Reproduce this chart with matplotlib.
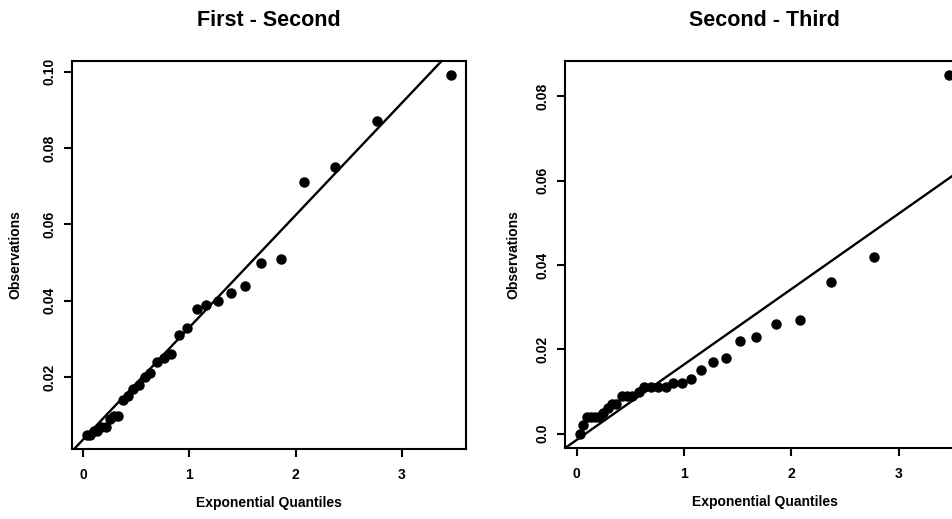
import matplotlib
matplotlib.use("Agg")
import matplotlib.pyplot as plt
import numpy as np

plt.rcParams['font.family'] = ['Liberation Sans', 'DejaVu Sans']
plt.rcParams['font.weight'] = 'bold'

# exponential quantiles (same 31 positions in both panels)
cuantiles = [0.03, 0.06, 0.10, 0.13, 0.17, 0.21, 0.25, 0.29, 0.33, 0.37,
             0.42, 0.47, 0.52, 0.58, 0.63, 0.69, 0.76, 0.83, 0.90, 0.98,
             1.07, 1.16, 1.27, 1.39, 1.52, 1.67, 1.86, 2.08, 2.37, 2.77, 3.47]

# observaciones ordenadas
obs_primero = [0.005, 0.005, 0.006, 0.006, 0.007, 0.007, 0.009, 0.010, 0.010, 0.014,
               0.015, 0.017, 0.018, 0.020, 0.021, 0.024, 0.025, 0.026, 0.031, 0.033,
               0.038, 0.039, 0.040, 0.042, 0.044, 0.050, 0.051, 0.071, 0.075, 0.087, 0.099]
obs_segundo = [0.000, 0.002, 0.004, 0.004, 0.004, 0.004, 0.005, 0.006, 0.007, 0.007,
               0.009, 0.009, 0.009, 0.010, 0.011, 0.011, 0.011, 0.011, 0.012, 0.012,
               0.013, 0.015, 0.017, 0.018, 0.022, 0.023, 0.026, 0.027, 0.036, 0.042, 0.085]

# rectas de referencia (ordenada, pendiente)
recta_primero = (0.0038, 0.0293)
recta_segundo = (-0.0015, 0.0179)

titulos = ['First - Second', 'Second - Third']
xticks = [0, 1, 2, 3]
yticks_primero = [0.02, 0.04, 0.06, 0.08, 0.10]
ylabels_primero = ['0.02', '0.04', '0.06', '0.08', '0.10']
yticks_segundo = [0.0, 0.02, 0.04, 0.06, 0.08]
ylabels_segundo = ['0.0', '0.02', '0.04', '0.06', '0.08']

W, H = 953, 519
fig = plt.figure(figsize=(W / 100, H / 100), dpi=100)

# posiciones en pixeles: izquierda, arriba, ancho, alto
cajas = [(72, 61, 394, 388), (565, 61, 399, 387)]
datos = [(obs_primero, recta_primero, yticks_primero, ylabels_primero, -57),
         (obs_segundo, recta_segundo, yticks_segundo, ylabels_segundo, -52)]

for (px, py, pw, ph), (obs, recta, yt, yl, xlab), titulo in zip(cajas, datos, titulos):
    ax = fig.add_axes([px / W, 1 - (py + ph) / H, pw / W, ph / H])
    x = np.array(cuantiles)
    y = np.array(obs)
    ax.plot(x, y, 'o', color='black', ms=6.5, mec='black')
    ax.axline((0, recta[0]), slope=recta[1], color='black', lw=1.7)

    # rango con 4% de margen como en R
    dx = (x.max() - x.min()) * 0.04
    dy = (y.max() - y.min()) * 0.04
    ax.set_xlim(x.min() - dx, x.max() + dx)
    ax.set_ylim(y.min() - dy, y.max() + dy)

    ax.set_xticks(xticks)
    ax.set_xticklabels([str(t) for t in xticks], fontsize=10, fontweight='bold')
    ax.set_yticks(yt)
    ax.set_yticklabels(yl, fontsize=10, fontweight='bold', rotation=90, va='center')
    ax.tick_params(axis='x', length=6, width=1.5, pad=8)
    ax.tick_params(axis='y', length=6, width=1.5, pad=5)
    for s in ax.spines.values():
        s.set_linewidth(1.5)

    ax.text(0.5, 1 + 40 / ph, titulo, transform=ax.transAxes, ha='center', va='center',
            fontsize=15.5, fontweight='bold')
    ax.text(0.5, -54 / ph, 'Exponential Quantiles', transform=ax.transAxes,
            ha='center', va='center', fontsize=10, fontweight='bold')
    ax.text(xlab / pw, 0.5, 'Observations', transform=ax.transAxes, rotation=90,
            ha='center', va='center', fontsize=10, fontweight='bold')

fig.savefig('out.png', dpi=100)
